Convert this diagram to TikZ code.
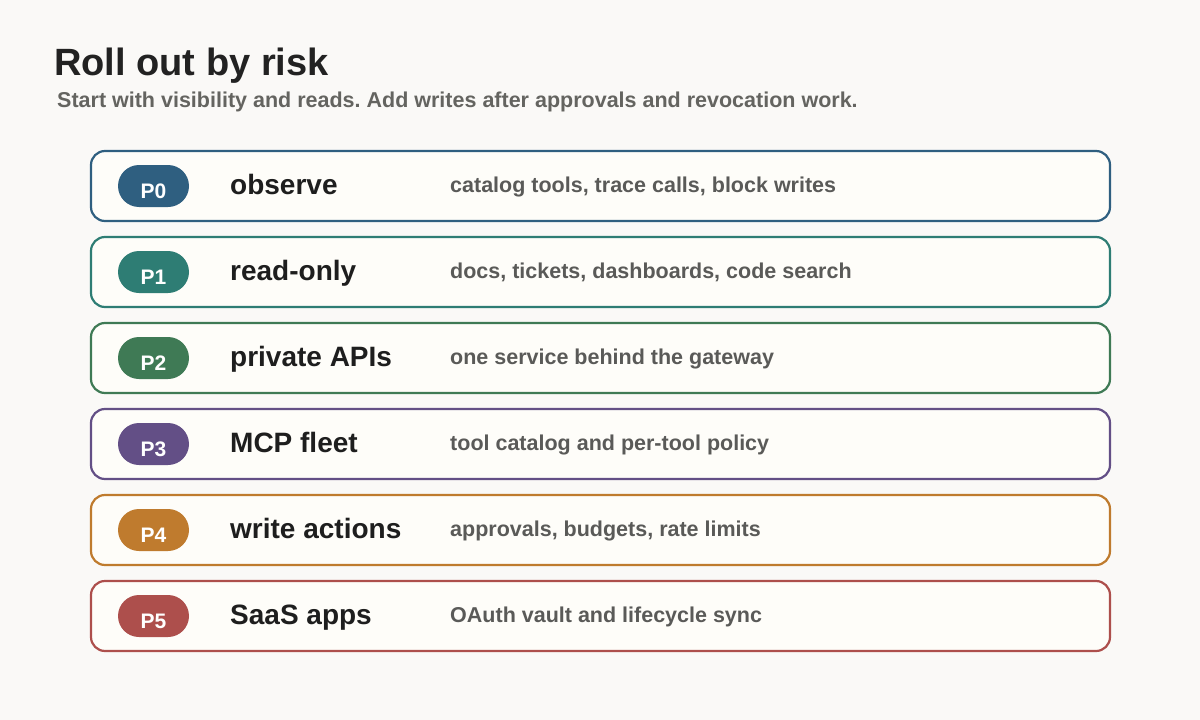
\documentclass[tikz,border=0pt]{standalone}
\usepackage{fontspec}
\setmainfont{Liberation Sans}
\frenchspacing
\definecolor{bg}{HTML}{FAF9F7}
\definecolor{boxfill}{HTML}{FEFDF9}
\definecolor{titlec}{HTML}{222222}
\definecolor{subc}{HTML}{646460}
\definecolor{descc}{HTML}{5A5A58}
\definecolor{labc}{HTML}{1E1E1E}
\definecolor{c0}{HTML}{2F5F80}
\definecolor{c1}{HTML}{2E7D74}
\definecolor{c2}{HTML}{3F7A55}
\definecolor{c3}{HTML}{634F86}
\definecolor{c4}{HTML}{BF7B2E}
\definecolor{c5}{HTML}{AD4F4C}
\tikzset{
  rowbox/.style={draw=#1, fill=boxfill, line width=2.2pt, rounded corners=14pt,
    minimum width=1019pt, minimum height=70pt, inner sep=0pt, outer sep=0pt},
  pill/.style={fill=#1, rounded corners=21pt, minimum width=71pt, minimum height=42pt,
    inner sep=0pt, outer sep=0pt},
  ptxt/.style={anchor=base, text=white, font=\fontsize{21}{24}\selectfont\bfseries, inner sep=0pt},
  labtxt/.style={anchor=base west, text=labc, font=\fontsize{28}{30}\selectfont\bfseries, inner sep=0pt},
  desctxt/.style={anchor=base west, text=descc, font=\fontsize{21.5}{24}\selectfont\bfseries, inner sep=0pt},
}
\begin{document}
\begin{tikzpicture}[x=1pt,y=-1pt]
\fill[bg] (0,0) rectangle (1200,720);
\useasboundingbox (0,0) rectangle (1200,720);
\node[anchor=base west, inner sep=0pt, text=titlec, font=\fontsize{38}{40}\selectfont\bfseries] (title) at (54,75) {Roll out by risk};
\node[anchor=base west, inner sep=0pt, text=subc, font=\fontsize{21.5}{24}\selectfont\bfseries] (sub) at (57,107.5) {Start with visibility and reads. Add writes after approvals and revocation work.};
\foreach \i/\lab/\desc in {0/observe/{catalog tools, trace calls, block writes},
  1/read-only/{docs, tickets, dashboards, code search},
  2/private APIs/{one service behind the gateway},
  3/MCP fleet/{tool catalog and per-tool policy},
  4/write actions/{approvals, budgets, rate limits},
  5/SaaS apps/{OAuth vault and lifecycle sync}}{
  \pgfmathsetmacro{\yc}{186+86*\i}
  \node[rowbox=c\i] (row\i) at (600.5,\yc) {};
  \node[pill=c\i] (pill\i) at (153.5,\yc) {};
  \node[ptxt] (ptag\i) at (153.5,\yc+12) {P\i};
  \node[labtxt] (lab\i) at (230,\yc+8) {\lab};
  \node[desctxt] (desc\i) at (450,\yc+6.5) {\desc};
}
\end{tikzpicture}
\end{document}
